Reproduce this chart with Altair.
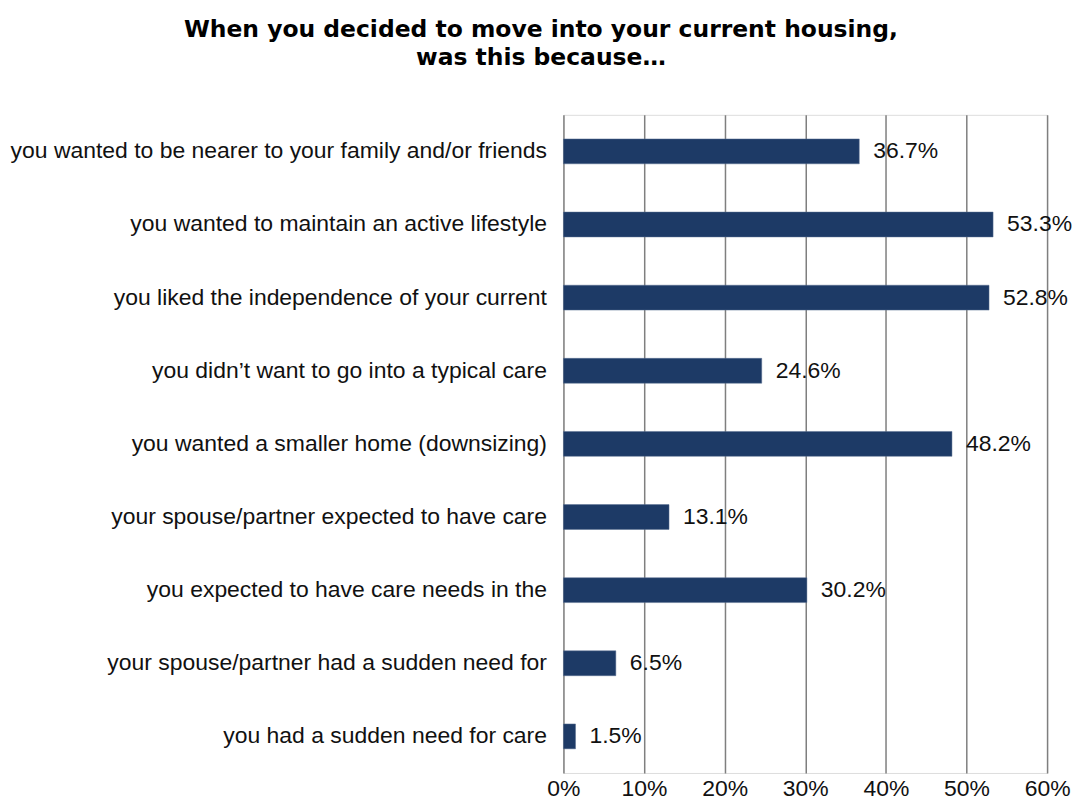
import altair as alt
import pandas as pd

categories = [
    "you wanted to be nearer to your family and/or friends",
    "you wanted to maintain an active lifestyle",
    "you liked the independence of your current",
    "you didn\u2019t want to go into a typical care",
    "you wanted a smaller home (downsizing)",
    "your spouse/partner expected to have care",
    "you expected to have care needs in the",
    "your spouse/partner had a sudden need for",
    "you had a sudden need for care",
]
values = [0.367, 0.533, 0.528, 0.246, 0.482, 0.131, 0.302, 0.065, 0.015]
tick_values = [0, 0.1, 0.2, 0.3, 0.4, 0.5, 0.6]

df = pd.DataFrame({"category": categories, "value": values})

FONT = "Liberation Sans"
FS = 23

base = alt.Chart(df).encode(
    y=alt.Y("category:N", sort=None, title=None,
            scale=alt.Scale(paddingInner=0.66, paddingOuter=0.33),
            axis=alt.Axis(ticks=False, domain=False, grid=False, labelFontSize=FS,
                          labelColor="#111111", labelPadding=17, labelLimit=800,
                          labelFont=FONT)),
    x=alt.X("value:Q", title=None,
            scale=alt.Scale(domain=[0, 0.6], nice=False),
            axis=alt.Axis(values=tick_values, format="%", ticks=False, domain=False,
                          grid=True, gridColor="#7f7f7f", gridWidth=1.5, gridOpacity=1,
                          labelFontSize=FS, labelColor="#111111", labelPadding=5,
                          labelFlush=False, labelFont=FONT)),
)

bars = base.mark_bar(color="#1d3a66", stroke="#5a6f91", strokeWidth=0.5)
labels = base.mark_text(align="left", baseline="middle", dx=14, fontSize=FS,
                        color="#111111", font=FONT).encode(
    text=alt.Text("value:Q", format=".1%"))

chart = (bars + labels).properties(
    width=485,
    height=660,
    padding={"left": 1, "top": 8, "right": 0, "bottom": 0},
    title=alt.TitleParams(
        ["When you decided to move into your current housing,", "was this because\u2026"],
        fontSize=23.5, fontWeight="bold", font="DejaVu Sans", lineHeight=29, offset=45,
        anchor="middle", frame="bounds", color="#000000"),
).configure_view(stroke=None).configure(background="white")

chart.save("out.html", embed_options={"renderer": "svg", "actions": False})
